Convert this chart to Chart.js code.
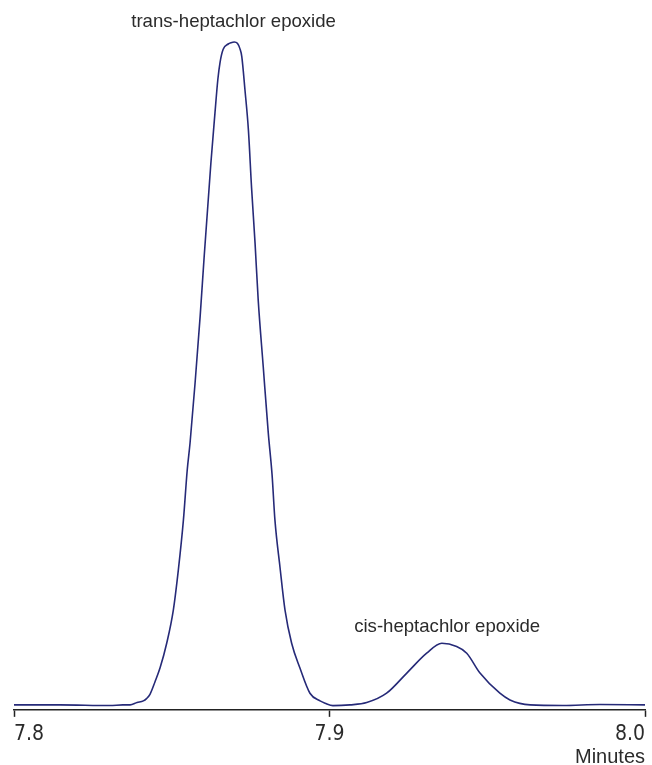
<!DOCTYPE html>
<html>
<head>
<meta charset="utf-8">
<script src="https://cdn.jsdelivr.net/npm/chart.js@4/dist/chart.umd.min.js"></script>
<style>
  html, body { margin: 0; padding: 0; background: #ffffff; }
  #wrap { position: relative; width: 652px; height: 765px; }
</style>
</head>
<body>
<div id="wrap"><canvas id="c"></canvas></div>
<script>
// Retention time (minutes)
const times = [
  7.8000, 7.8146, 7.8304, 7.8345, 7.8368, 7.8390, 7.8410, 7.8420, 7.8431, 7.8447,
  7.8463, 7.8484, 7.8505, 7.8521, 7.8537, 7.8549, 7.8558, 7.8574, 7.8590, 7.8603,
  7.8624, 7.8637, 7.8646, 7.8653, 7.8663, 7.8679, 7.8688, 7.8698, 7.8708, 7.8716,
  7.8722, 7.8732, 7.8743, 7.8753, 7.8764, 7.8774, 7.8790, 7.8806, 7.8818, 7.8827,
  7.8843, 7.8859, 7.8880, 7.8906, 7.8938, 7.8970, 7.8986, 7.9011, 7.9065, 7.9118,
  7.9181, 7.9245, 7.9308, 7.9356, 7.9403, 7.9435, 7.9477, 7.9540, 7.9572, 7.9636,
  7.9740, 7.9857, 8.0000
];
// Detector response (relative, % of largest peak)
const response = [
  0.0, 0.0, -0.1, 0.0, 0.0, 0.35, 0.6, 0.95, 1.6, 3.5,
  5.6, 9.3, 14.3, 20.4, 27.9, 35.4, 39.5, 48.6, 58.6, 67.8,
  81.7, 89.3, 94.3, 96.9, 98.9, 99.7, 99.9, 100.0, 99.8, 99.0,
  97.8, 92.8, 86.7, 78.0, 69.7, 61.1, 51.0, 41.0, 34.7, 27.9,
  20.8, 14.3, 9.3, 5.6, 1.76, 0.6, 0.25, -0.12, 0.0, 0.35,
  1.76, 4.8, 7.8, 9.3, 8.8, 7.8, 4.8, 1.76, 0.75, 0.0,
  -0.1, 0.05, 0.0
];
const tickValues = [7.8, 7.9, 8.0];
const axisTitle = 'Minutes';
const peakNames = ['trans-heptachlor epoxide', 'cis-heptachlor epoxide'];
const peakLabelTimes = [7.8696, 7.9373];
const peakHeights = [100.0, 9.3];

const points = times.map((t, i) => ({ x: t, y: response[i] }));

const peakLabels = {
  id: 'peakLabels',
  afterDatasetsDraw(chart) {
    const ctx = chart.ctx;
    const xs = chart.scales.x, ys = chart.scales.y;
    const gaps = [15, 11];
    ctx.save();
    ctx.fillStyle = '#2b2b2b';
    ctx.font = '18.6px "Liberation Sans", Arial, sans-serif';
    ctx.textAlign = 'center';
    ctx.textBaseline = 'alphabetic';
    peakNames.forEach((name, i) => {
      const px = xs.getPixelForValue(peakLabelTimes[i]);
      const py = ys.getPixelForValue(peakHeights[i]);
      ctx.fillText(name, px, py - gaps[i]);
    });
    ctx.restore();
  }
};

new Chart(document.getElementById('c'), {
  type: 'line',
  data: {
    datasets: [{
      data: points,
      borderColor: '#262a78',
      borderWidth: 1.6,
      pointRadius: 0,
      fill: false,
      cubicInterpolationMode: 'monotone',
      clip: 6
    }]
  },
  options: {
    responsive: true,
    maintainAspectRatio: false,
    animation: false,
    layout: { padding: { left: 14, right: 7, top: 42, bottom: -1 } },
    plugins: { legend: { display: false }, tooltip: { enabled: false } },
    scales: {
      x: {
        type: 'linear',
        min: 7.8,
        max: 8.0,
        afterBuildTicks(scale) { scale.ticks = tickValues.map(v => ({ value: v })); },
        grid: {
          display: true,
          drawOnChartArea: false,
          drawTicks: true,
          tickLength: 7,
          tickWidth: 1.5,
          tickColor: '#222222'
        },
        border: { display: true, color: '#222222', width: 1.5 },
        ticks: {
          align: 'inner',
          maxRotation: 0,
          padding: 6,
          color: '#2b2b2b',
          font: { family: '"Liberation Sans Narrow", "DejaVu Sans Condensed", sans-serif', size: 21, lineHeight: 1.15 },
          callback: (v) => Number(v).toFixed(1)
        },
        title: {
          display: true,
          text: axisTitle,
          align: 'end',
          color: '#2b2b2b',
          padding: { top: -5, bottom: 0 },
          font: { family: '"Liberation Sans", Arial, sans-serif', size: 20, lineHeight: 0.9 }
        }
      },
      y: {
        display: false,
        min: -0.75,
        max: 100
      }
    }
  },
  plugins: [peakLabels]
});
</script>
</body>
</html>
